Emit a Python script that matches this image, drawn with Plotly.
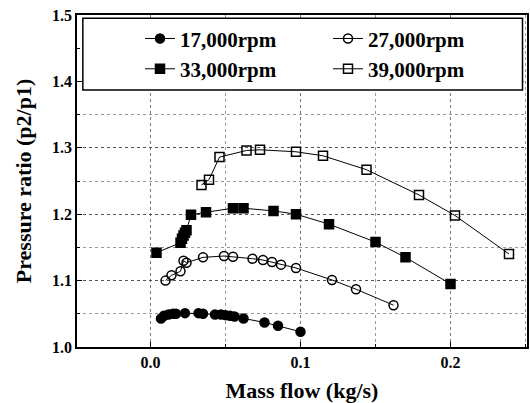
import plotly.graph_objects as go

x17 = [0.007, 0.009, 0.012, 0.015, 0.017, 0.023, 0.032, 0.035, 0.043, 0.047, 0.050, 0.053, 0.056, 0.062, 0.076, 0.085, 0.100]
y17 = [1.043, 1.047, 1.049, 1.050, 1.050, 1.051, 1.051, 1.050, 1.049, 1.049, 1.048, 1.047, 1.046, 1.043, 1.037, 1.032, 1.023]

x27 = [0.010, 0.014, 0.020, 0.022, 0.024, 0.035, 0.049, 0.055, 0.068, 0.075, 0.081, 0.087, 0.097, 0.121, 0.137, 0.162]
y27 = [1.100, 1.108, 1.114, 1.130, 1.127, 1.135, 1.137, 1.136, 1.133, 1.131, 1.128, 1.124, 1.119, 1.101, 1.087, 1.063]

x33 = [0.004, 0.020, 0.021, 0.022, 0.023, 0.024, 0.027, 0.037, 0.055, 0.062, 0.082, 0.097, 0.119, 0.150, 0.170, 0.200]
y33 = [1.142, 1.157, 1.163, 1.168, 1.172, 1.176, 1.199, 1.203, 1.209, 1.209, 1.205, 1.200, 1.185, 1.158, 1.135, 1.095]

x39 = [0.034, 0.039, 0.046, 0.064, 0.073, 0.097, 0.115, 0.144, 0.179, 0.203, 0.239]
y39 = [1.244, 1.252, 1.286, 1.296, 1.297, 1.294, 1.288, 1.267, 1.229, 1.198, 1.140]

names = ["17,000rpm", "27,000rpm", "33,000rpm", "39,000rpm"]
symbols = ["circle", "circle-open", "square", "square-open"]
xs = [x17, x27, x33, x39]
ys = [y17, y27, y33, y39]

FONT = "Liberation Serif, Times New Roman, Times, serif"

fig = go.Figure()
for x, y, n, s in zip(xs, ys, names, symbols):
    fig.add_trace(go.Scatter(
        x=x, y=y, name="<b>" + n + "</b>", mode="lines+markers",
        line=dict(color="black", width=1),
        marker=dict(symbol=s, size=9, color="black", line=dict(color="black", width=1.5)),
    ))

# legend frame
fig.add_shape(type="rect", xref="paper", yref="y", x0=0.013, x1=0.99, y0=1.387, y1=1.495,
              line=dict(color="black", width=1.5), fillcolor="white", layer="above")

fig.update_layout(
    width=530, height=403,
    margin=dict(l=77, r=3, t=15, b=56),
    paper_bgcolor="white", plot_bgcolor="white",
    font=dict(family=FONT, color="black"),
    showlegend=True,
    legend=dict(orientation="h", x=0.14, y=0.99, xanchor="left", yanchor="top",
                entrywidth=143, bgcolor="rgba(0,0,0,0)", borderwidth=0,
                font=dict(family=FONT, size=21, color="black"), traceorder="normal"),
    xaxis=dict(
        range=[-0.049, 0.251], tick0=0, dtick=0.1, tickformat=".1f",
        automargin=False,
        showline=True, linecolor="black", linewidth=1.5, mirror=True,
        ticks="inside", ticklen=5, tickcolor="black",
        showgrid=True, gridcolor="#777", griddash="dot", gridwidth=1,
        zeroline=False,
        minor=dict(dtick=0.05, ticks="inside", ticklen=3, tickcolor="black",
                   showgrid=True, gridcolor="#999", griddash="dot"),
        tickfont=dict(family=FONT, size=16, color="black"),
        tickprefix="<b>", ticksuffix="</b>",
        title=dict(text="<b>Mass flow (kg/s)</b>", font=dict(family=FONT, size=22, color="black"), standoff=14),
    ),
    yaxis=dict(
        range=[1.0, 1.5], dtick=0.1, tickformat=".1f",
        automargin=False,
        showline=True, linecolor="black", linewidth=1.5, mirror=True,
        ticks="inside", ticklen=5, tickcolor="black",
        showgrid=True, gridcolor="#555", griddash="dot", gridwidth=1,
        zeroline=False,
        minor=dict(dtick=0.05, ticks="inside", ticklen=3, tickcolor="black",
                   showgrid=True, gridcolor="#999", griddash="dot"),
        tickfont=dict(family=FONT, size=16, color="black"),
        tickprefix="<b>", ticksuffix="</b>",
        title=dict(text="<b>Pressure ratio (p2/p1)</b>", font=dict(family=FONT, size=22, color="black"), standoff=14),
    ),
)

fig.write_html("out.html", config={"displayModeBar": False},
               post_script="document.body.style.margin='0';")
